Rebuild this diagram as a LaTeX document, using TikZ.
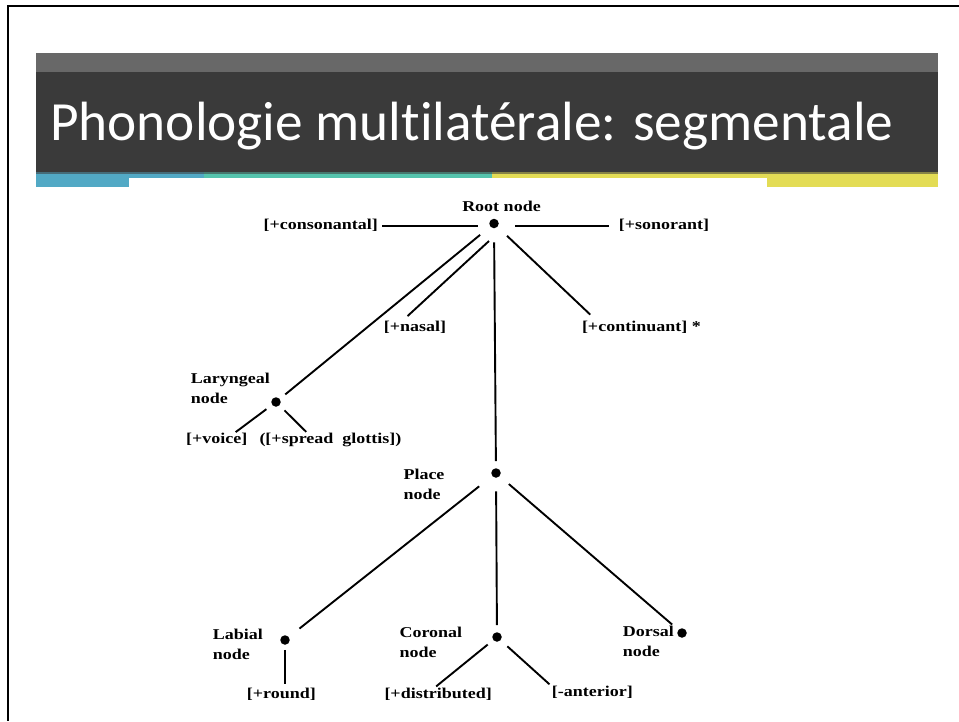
\documentclass[tikz,border=0pt]{standalone}
\usepackage{fontspec}
\usetikzlibrary{calc}
\newfontfamily\titlefont[Ligatures=NoCommon]{Carlito}
\newfontfamily\scanfont[FakeStretch=1.2]{Liberation Serif}
\definecolor{bandgrey}{HTML}{686868}
\definecolor{banddark}{HTML}{3A3A3A}
\definecolor{accblue}{HTML}{52A9C5}
\definecolor{accteal}{HTML}{55C4AD}
\definecolor{accyellow}{HTML}{E3DC55}

\begin{document}
\begin{tikzpicture}[x=1pt,y=-1pt,
  dot/.style={circle,fill=black,inner sep=0pt,minimum size=9.5pt},
  feat/.style={inner sep=0pt,text height=10pt,text depth=3pt,
    font=\scanfont\bfseries\fontsize{15}{20}\selectfont},
  lbl/.style={inner sep=0pt,align=left,anchor=north west,
    font=\scanfont\bfseries\fontsize{15}{20}\selectfont},
  link/.style={line width=1.9pt}
]
\useasboundingbox (0,0) rectangle (959,721);
\fill[white] (0,0) rectangle (959,721);

% slide frame
\fill[black] (7,5) rectangle (959,7);
\fill[black] (7,5) rectangle (9,721);

% title band
\fill[bandgrey] (36,53) rectangle (938,72);
\fill[banddark] (36,72) rectangle (938,172);
\fill[accblue!45!banddark] (36,172) rectangle (204,174);
\fill[accteal!45!banddark] (204,172) rectangle (492,174);
\fill[accyellow!45!banddark] (492,172) rectangle (938,174);
\fill[accblue] (36,174) rectangle (204,178);
\fill[accteal] (204,174) rectangle (492,178);
\fill[accyellow] (492,174) rectangle (938,178);
\fill[accblue] (36,174) rectangle (129,187);
\fill[accyellow] (767,174) rectangle (938,187);

\node[anchor=base west,text=white,inner sep=0pt,
  font=\titlefont\fontsize{55.3}{60}\selectfont] (title) at (50,140)
  {Phonologie multilatérale: segmentale};

% tree nodes
\node[dot] (root) at (494,223.5) {};
\node[dot] (lar) at (276,402) {};
\node[dot] (place) at (496,473) {};
\node[dot] (labdot) at (285,640) {};
\node[dot] (cor) at (497,637) {};
\node[dot] (dor) at (682,633) {};

% node labels
\node[feat,anchor=base] (rootlbl) at (501.5,211.5) {Root node};
\node[lbl] (larlbl) at (190.7,373.2) {Laryngeal\\node};
\node[lbl] (placelbl) at (403.3,469.2) {Place\\node};
\node[lbl] (lablbl) at (212.7,629.2) {Labial\\node};
\node[lbl] (corlbl) at (399.3,626.5) {Coronal\\node};
\node[lbl] (dorlbl) at (622.7,625.5) {Dorsal\\node};

% features
\node[feat,anchor=base east] (cons) at (378,229.5) {[+consonantal]};
\node[feat,anchor=base west] (son) at (618.6,229.5) {[+sonorant]};
\node[feat,anchor=base west] (nasal) at (383.6,331) {[+nasal]};
\node[feat,anchor=base west] (cont) at (581.8,331) {[+continuant] *};
\node[feat,anchor=base west] (voice) at (186,443.5) {[+voice]};
\node[feat,anchor=base west] (spread) at (259.3,443.5) {([+spread\ \ glottis])};
\node[feat,anchor=base west] (round) at (246.7,698.5) {[+round]};
\node[feat,anchor=base west] (dist) at (384.3,698.5) {[+distributed]};
\node[feat,anchor=base west] (ant) at (551.7,696.5) {[-anterior]};

% association lines
\draw[link,shorten <=4pt,shorten >=16pt] (cons) -- (cons -| root);
\draw[link,shorten <=10pt,shorten >=21pt] (son) -- (son -| root);
\draw[link,shorten <=13pt,shorten >=7pt] (root) -- (lar);
\coordinate (nasalstart) at ($(root)+(-5,17.5)$);
\draw[link,shorten >=7pt] (nasalstart) -- ($(nasal.north west)!0.3!(nasal.north east)$);
\draw[link,shorten <=14pt,shorten >=7pt] (root) -- (place);
\draw[link,shorten <=13pt,shorten >=9pt] (root) -- ($(cont.north west)+(15,0)$);

\draw[link,shorten <=7pt,shorten >=2pt] (lar) -- ($(voice.north west)!0.78!(voice.north east)$);
\draw[link,shorten <=7pt,shorten >=2pt] (lar) -- ($(spread.north west)!0.34!(spread.north east)$);

\draw[link,shorten <=16.5pt,shorten >=13.5pt] (place) -- (labdot);
\draw[link,shorten <=13.5pt,shorten >=7pt] (place) -- (cor);
\draw[link,shorten <=12pt,shorten >=8pt] (place) -- (dor);

\draw[link,shorten <=5pt,shorten >=4pt] (labdot) -- (labdot |- round.north);
\draw[link,shorten <=7pt,shorten >=3pt] (cor) -- ($(dist.north west)!0.46!(dist.north east)$);
\draw[link,shorten <=9pt,shorten >=3pt] (cor) -- (ant.north west);
\end{tikzpicture}
\end{document}
